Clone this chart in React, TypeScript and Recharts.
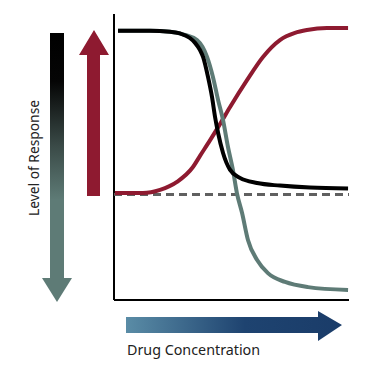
import React from 'react';
import { LineChart, Line, XAxis, YAxis, ReferenceLine, Customized } from 'recharts';

// Drug concentration (0-100) vs level of response (0-100)
const blackCurve = [
  { x: 1.7, y: 94.1 }, { x: 15.3, y: 94.1 }, { x: 23.8, y: 93.8 }, { x: 28.1, y: 93.2 },
  { x: 32.3, y: 91.6 }, { x: 34.5, y: 89.9 }, { x: 36.6, y: 87.4 }, { x: 37.9, y: 85.0 },
  { x: 40.0, y: 78.0 }, { x: 41.7, y: 71.0 }, { x: 43.0, y: 64.0 }, { x: 44.3, y: 58.4 },
  { x: 46.4, y: 51.4 }, { x: 49.4, y: 45.5 }, { x: 53.6, y: 42.7 }, { x: 60.9, y: 40.9 },
  { x: 70.6, y: 40.0 }, { x: 83.4, y: 39.3 }, { x: 99.6, y: 39.0 },
];

const grayCurve = [
  { x: 1.7, y: 94.1 }, { x: 15.3, y: 94.1 }, { x: 23.8, y: 93.8 }, { x: 30.2, y: 92.7 },
  { x: 35.3, y: 90.9 }, { x: 39.6, y: 85.0 }, { x: 42.1, y: 78.0 }, { x: 44.3, y: 69.9 },
  { x: 46.4, y: 62.9 }, { x: 48.5, y: 53.5 }, { x: 50.6, y: 45.5 }, { x: 52.3, y: 37.4 },
  { x: 54.5, y: 30.4 }, { x: 57.0, y: 21.0 }, { x: 60.9, y: 14.0 }, { x: 65.5, y: 9.4 },
  { x: 72.8, y: 6.3 }, { x: 82.6, y: 4.5 }, { x: 99.6, y: 3.5 },
];

const redCurve = [
  { x: 0.4, y: 37.4 }, { x: 12.3, y: 37.4 }, { x: 19.6, y: 38.5 }, { x: 26.8, y: 41.3 },
  { x: 33.6, y: 46.5 }, { x: 36.6, y: 50.4 }, { x: 40.9, y: 55.9 }, { x: 45.1, y: 61.5 },
  { x: 49.4, y: 67.5 }, { x: 56.6, y: 76.9 }, { x: 63.4, y: 85.0 }, { x: 70.6, y: 90.9 },
  { x: 77.0, y: 93.4 }, { x: 82.1, y: 94.4 }, { x: 90.6, y: 95.1 }, { x: 99.6, y: 95.1 },
];

const baselineLevel = 36.9;
const axisMin = 0;

const yLabel = 'Level of Response';
const xLabel = 'Drug Concentration';

const FONT = '"Noto Sans", "Open Sans", sans-serif';

const Decorations = () => (
  <g>
    <defs>
      <linearGradient id="downGrad" x1="0" y1="0" x2="0" y2="1">
        <stop offset="0" stopColor="#000000" />
        <stop offset="0.18" stopColor="#050505" />
        <stop offset="0.42" stopColor="#3a4a47" />
        <stop offset="0.62" stopColor="#5e7b76" />
        <stop offset="1" stopColor="#5e7b76" />
      </linearGradient>
      <linearGradient id="rightGrad" x1="0" y1="0" x2="1" y2="0">
        <stop offset="0" stopColor="#5a8ca6" />
        <stop offset="0.55" stopColor="#1e4370" />
        <stop offset="1" stopColor="#1a3c69" />
      </linearGradient>
    </defs>
    {/* down arrow */}
    <path d="M50,33 L64,33 L64,278 L72,278 L57,302 L42,278 L50,278 Z" fill="url(#downGrad)" />
    {/* up arrow */}
    <path d="M87,196 L100,196 L100,55 L109,55 L94,30 L79,55 L87,55 Z" fill="#8e1a30" />
    {/* right arrow */}
    <path d="M126,317 L318,317 L318,311 L342,325 L318,341 L318,333 L126,333 Z" fill="url(#rightGrad)" />
    <text
      x={33}
      y={158}
      transform="rotate(-90 33 158)"
      textAnchor="middle"
      dominantBaseline="central"
      fontFamily={FONT}
      fontSize={13.8}
      fill="#222"
    >
      {yLabel}
    </text>
    <text x={127} y={355} fontFamily={FONT} fontSize={14.3} fill="#222">
      {xLabel}
    </text>
  </g>
);

export default function App() {
  return (
    <div style={{ position: 'absolute', left: 0, top: 0, width: 370, height: 389, background: '#fff' }}>
      <LineChart width={370} height={389} margin={{ top: 14, right: 21, bottom: 89, left: 114 }}>
        <XAxis type="number" dataKey="x" domain={[0, 100]} hide />
        <YAxis type="number" dataKey="y" domain={[0, 100]} hide />
        <ReferenceLine x={axisMin} stroke="#000" strokeWidth={2} />
        <ReferenceLine y={axisMin} stroke="#000" strokeWidth={2} />
        <ReferenceLine y={baselineLevel} stroke="#606060" strokeWidth={3} strokeDasharray="8 5" />
        <Line data={redCurve} dataKey="y" type="monotone" stroke="#8e1a30" strokeWidth={4} dot={false} isAnimationActive={false} />
        <Line data={grayCurve} dataKey="y" type="monotone" stroke="#5e7b76" strokeWidth={4} dot={false} isAnimationActive={false} />
        <Line data={blackCurve} dataKey="y" type="monotone" stroke="#000" strokeWidth={4} dot={false} isAnimationActive={false} />
        <Customized component={Decorations} />
      </LineChart>
    </div>
  );
}
